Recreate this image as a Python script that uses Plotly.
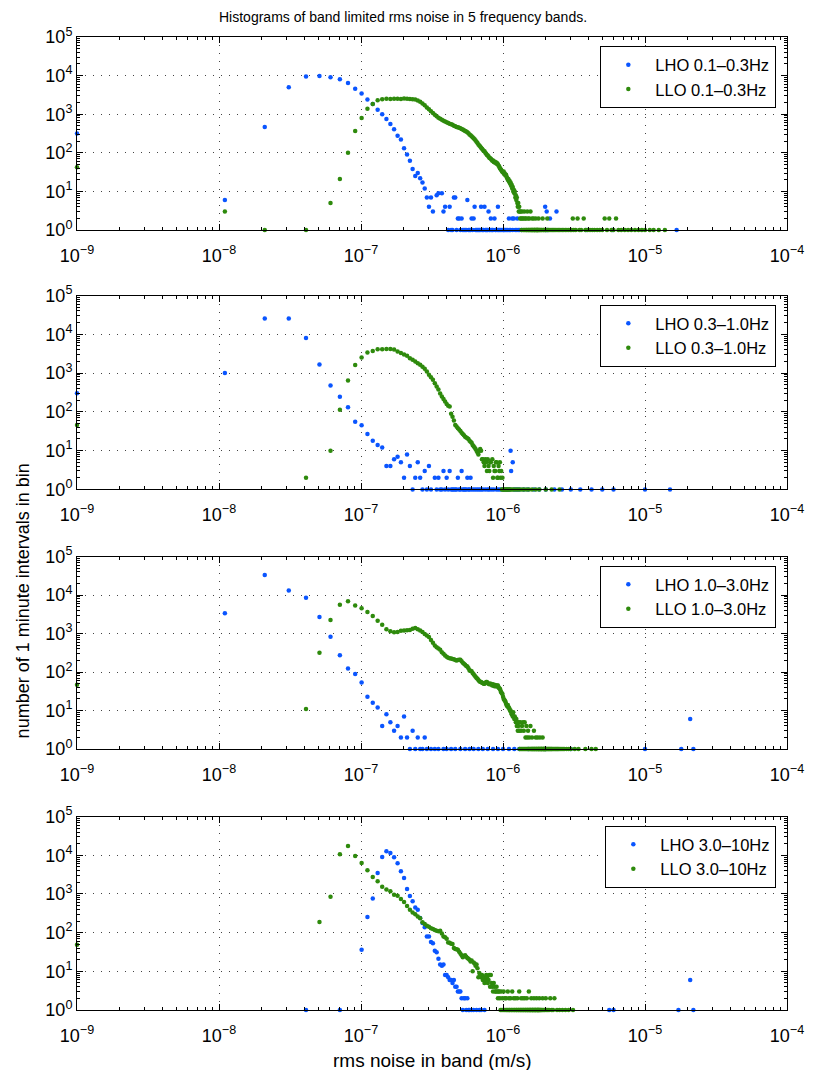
import plotly.graph_objects as go

# histogram bins: centre of bin k is BIN0 + k * BIN_WIDTH (m/s)
BIN0 = 1e-9
BIN_WIDTH = 1e-8

bands = ["0.1\u20130.3Hz", "0.3\u20131.0Hz", "1.0\u20133.0Hz", "3.0\u201310Hz"]

x_exp = [-9, -8, -7, -6, -5, -4]
y_exp = [0, 1, 2, 3, 4, 5]

# (bin, count) pairs; *_ones are bins holding a single interval
lho1 = [(0, 316), (1, 6), (2, 470), (3, 5000), (4, 9500), (5, 9700), (6, 9100), (7, 8000), (8, 6400),
        (9, 4600), (10, 3460), (11, 2390), (12, 1830), (13, 1310), (14, 1000), (15, 750), (16, 560),
        (17, 410), (18, 275), (19, 220), (20, 131), (21, 90), (22, 62), (23, 38), (24, 25), (25, 30),
        (26, 22), (27, 17), (28, 12), (29, 7), (30, 4), (31, 7), (32, 3), (34, 8), (35, 9), (37, 9),
        (38, 3), (39, 4), (42, 4), (45, 7), (46, 7), (48, 2), (49, 2), (51, 2), (56, 6), (60, 2),
        (62, 2), (63, 4), (70, 4), (74, 4), (79, 3), (82, 2), (87, 2), (92, 4), (110, 2), (116, 2),
        (119, 2), (126, 2), (198, 4), (203, 3), (214, 2), (238, 3)]
lho1_ones = [41, 43, 44, 47, 50, 52, 53, 54, 55, 57, 58, 59, 61, 64, 65, 66, 67, 68, 69, 71, 72, 73,
             75, 76, 77, 78, 80, 81, 83, 84, 85, 88, 89, 91, 93, 94, 96, 98, 100, 101, 102, 104, 106,
             108, 111, 113, 117, 122, 125, 128, 131, 135, 200, 206, 385, 590, 1670]

llo1 = [(0, 42), (1, 3), (2, 1), (4, 1), (6, 5), (7, 21), (8, 100), (9, 370), (10, 800), (11, 1390),
        (12, 1830), (13, 2290), (14, 2450), (15, 2500), (16, 2480), (17, 2520), (18, 2500), (19, 2480),
        (20, 2550), (21, 2520), (22, 2480), (23, 2430), (24, 2400), (25, 2250), (26, 2100), (27, 1900),
        (28, 1700), (29, 1500), (30, 1350), (31, 1200), (32, 1080), (33, 970), (34, 880), (35, 810),
        (36, 760), (37, 720), (38, 680), (39, 650), (40, 620), (41, 590), (42, 570), (43, 550),
        (44, 530), (45, 505), (46, 490), (47, 470), (48, 460), (49, 445), (50, 430), (51, 415),
        (52, 400), (53, 385), (54, 370), (55, 355), (56, 340), (57, 320), (58, 300), (59, 285),
        (60, 270), (61, 255), (62, 240), (63, 225), (64, 210), (65, 195), (66, 180), (67, 165),
        (68, 155), (69, 145), (70, 135), (71, 128), (72, 120), (73, 112), (74, 110), (75, 100),
        (76, 95), (77, 88), (78, 85), (79, 80), (80, 75), (81, 72), (82, 70), (83, 66), (84, 62),
        (85, 63), (86, 58), (87, 60), (88, 55), (89, 57), (90, 52), (91, 54), (92, 50), (93, 46),
        (94, 44), (95, 40), (96, 38), (97, 36), (98, 34), (99, 32), (100, 31), (101, 33), (102, 28),
        (103, 29), (104, 26), (105, 27), (106, 24), (107, 22), (108, 20), (109, 21), (110, 18),
        (111, 19), (112, 16), (113, 17), (114, 14), (115, 15), (116, 12), (117, 13), (118, 10),
        (119, 11), (120, 9), (121, 10), (122, 7), (123, 8), (124, 6), (125, 7), (126, 5), (127, 4),
        (128, 5), (129, 3), (130, 4), (131, 3), (132, 2), (133, 3), (134, 2), (136, 3), (137, 2),
        (139, 2), (141, 3), (143, 2), (145, 2), (148, 3), (150, 2), (153, 2), (156, 3), (160, 2),
        (164, 2), (170, 2), (178, 2), (190, 2), (205, 2), (310, 2), (335, 2), (370, 2), (520, 2),
        (560, 2), (625, 2)]
llo1_ones = [135, 138, 140, 142, 144, 146, 147, 149, 151, 152, 154, 155, 157, 158, 159, 161, 162, 163,
             165, 166, 167, 168, 169, 171, 172, 173, 174, 175, 176, 177, 179, 180, 182, 184, 186, 188,
             191, 193, 195, 198, 200, 203, 207, 210, 214, 218, 222, 226, 230, 235, 240, 245, 250, 256,
             262, 268, 275, 282, 290, 298, 305, 315, 325, 345, 355, 380, 395, 410, 425, 440, 460, 480,
             500, 540, 580, 600, 650, 680, 720, 760, 800, 850, 900, 950, 1000, 1080, 1150, 1250, 1380]

lho2 = [(0, 302), (1, 1000), (2, 25700), (3, 25700), (4, 8000), (5, 1660), (6, 480), (7, 245),
        (8, 132), (9, 56), (10, 45), (11, 27), (12, 18), (13, 14), (14, 12), (15, 4), (16, 4), (17, 6),
        (18, 7), (19, 5), (20, 2), (21, 8), (22, 4), (24, 2), (25, 5), (26, 2), (28, 3), (30, 4),
        (33, 2), (35, 2), (38, 3), (40, 2), (42, 3), (48, 2), (51, 3), (56, 2), (59, 2), (113, 10),
        (114, 3), (117, 5)]
lho2_ones = [23, 27, 29, 31, 34, 36, 37, 39, 41, 43, 44, 45, 46, 47, 49, 50, 52, 53, 54, 55, 57, 58,
             60, 62, 64, 66, 68, 70, 72, 75, 78, 80, 83, 86, 90, 93, 96, 100, 104, 108, 111, 120, 125,
             130, 140, 150, 165, 180, 200, 230, 260, 300, 350, 420, 500, 600, 1000, 1500]

llo2 = [(0, 46), (4, 2), (6, 10), (7, 113), (8, 645), (9, 1620), (10, 2530), (11, 3400), (12, 3700),
        (13, 4100), (14, 4150), (15, 4200), (16, 4200), (17, 4050), (18, 3620), (19, 3300), (20, 3000),
        (21, 2800), (22, 2400), (23, 2200), (24, 2000), (25, 1800), (26, 1640), (27, 1450), (28, 1300),
        (29, 1100), (30, 910), (31, 780), (32, 670), (33, 550), (34, 450), (35, 380), (36, 300),
        (37, 250), (38, 215), (39, 185), (40, 160), (41, 143), (42, 138), (43, 90), (44, 75), (45, 60),
        (46, 46), (47, 42), (48, 38), (49, 35), (50, 32), (51, 29), (52, 27), (53, 25), (54, 23),
        (55, 22), (56, 21), (57, 20), (58, 18), (59, 17), (60, 16), (61, 14), (62, 13), (63, 12),
        (64, 11), (65, 10), (66, 9), (67, 8), (68, 10), (69, 11), (70, 10), (71, 6), (72, 6), (73, 5),
        (74, 4), (75, 6), (76, 5), (77, 3), (78, 6), (79, 4), (80, 3), (81, 5), (82, 5), (84, 6),
        (85, 2), (86, 4), (87, 3), (88, 3), (89, 5), (90, 5), (91, 2), (92, 2), (93, 4), (94, 3),
        (95, 5), (96, 2), (97, 3), (99, 2)]
llo2_ones = [98, 100, 101, 103, 105, 106, 108, 110, 112, 115, 118, 122, 126, 130, 135, 140, 146, 152,
             160, 170, 180, 200, 220, 250]

lho3 = [(1, 3380), (2, 33600), (3, 13200), (4, 8500), (5, 2700), (6, 830), (7, 275), (8, 124), (9, 89),
        (10, 54), (11, 23), (12, 16), (13, 12), (14, 4), (15, 8), (16, 5), (17, 3), (18, 4), (19, 2),
        (20, 7), (21, 2), (23, 3), (25, 2), (28, 2), (2080, 6)]
lho3_ones = [22, 24, 26, 27, 29, 31, 33, 35, 38, 40, 43, 46, 50, 54, 58, 62, 67, 72, 78, 85, 92, 100,
             110, 120, 130, 150, 200, 300, 1000, 1800, 2190]

llo3 = [(0, 47), (4, 11), (5, 316), (6, 2250), (7, 5600), (8, 6950), (9, 5400), (10, 4550), (11, 3640),
        (12, 2870), (13, 2170), (14, 1700), (15, 1300), (16, 1150), (17, 1090), (18, 1110), (19, 1180),
        (20, 1200), (21, 1220), (22, 1240), (23, 1340), (24, 1390), (25, 1300), (26, 1200), (27, 1100),
        (28, 980), (29, 900), (30, 820), (31, 680), (32, 580), (33, 490), (34, 440), (35, 410),
        (36, 380), (37, 330), (38, 300), (39, 270), (40, 250), (41, 235), (42, 230), (43, 225),
        (44, 220), (45, 215), (46, 205), (47, 200), (48, 205), (49, 210), (50, 210), (51, 190),
        (52, 175), (53, 165), (54, 155), (55, 145), (56, 140), (57, 125), (58, 110), (59, 108),
        (60, 105), (61, 95), (62, 88), (63, 81), (64, 76), (65, 70), (66, 67), (67, 62), (68, 58),
        (69, 56), (70, 55), (71, 53), (72, 52), (73, 50), (74, 50), (75, 52), (76, 55), (77, 55),
        (78, 52), (79, 50), (80, 48), (81, 50), (82, 50), (83, 47), (84, 45), (85, 48), (86, 45),
        (87, 43), (88, 46), (89, 44), (90, 42), (91, 45), (92, 45), (93, 40), (94, 38), (95, 37),
        (96, 33), (97, 30), (98, 28), (99, 27), (100, 23), (101, 20), (102, 19), (103, 18), (104, 17),
        (105, 15), (106, 14), (107, 13), (108, 14), (109, 12), (110, 12), (111, 11), (112, 10),
        (113, 10), (114, 9), (115, 8), (116, 8), (117, 7), (118, 9), (119, 7), (120, 6), (121, 7),
        (122, 6), (123, 5), (124, 6), (125, 4), (126, 5), (127, 3), (128, 4), (129, 5), (130, 3),
        (132, 5), (134, 3), (136, 4), (138, 5), (140, 3), (142, 5), (144, 2), (146, 4), (148, 2),
        (150, 3), (153, 2), (156, 4), (160, 2), (165, 3), (170, 2), (175, 2), (182, 2), (190, 2)]
llo3_ones = [131, 133, 135, 137, 139, 141, 143, 145, 147, 149, 151, 152, 154, 155, 157, 158, 159, 161,
             162, 163, 164, 166, 167, 168, 169, 171, 172, 173, 174, 176, 177, 178, 179, 180, 181, 183,
             184, 185, 186, 187, 188, 189, 191, 192, 193, 194, 195, 196, 197, 198, 199, 200, 202, 204,
             206, 208, 210, 212, 214, 216, 218, 220, 222, 225, 228, 231, 234, 237, 240, 243, 246, 250,
             255, 260, 265, 270, 280, 290, 300, 320, 340, 380, 420, 450]

lho4 = [(10, 36), (11, 255), (12, 760), (13, 3500), (14, 9100), (15, 12700), (16, 11500), (17, 8900),
        (18, 6200), (19, 3850), (20, 2600), (21, 1340), (22, 890), (23, 650), (24, 445), (25, 390),
        (26, 240), (27, 178), (28, 137), (29, 80), (30, 80), (31, 57), (32, 53), (33, 34), (34, 31),
        (35, 21), (36, 15), (37, 14), (38, 15), (39, 8), (40, 8), (41, 7), (42, 6), (43, 6), (44, 5),
        (45, 6), (46, 4), (47, 4), (48, 3), (49, 3), (50, 3), (51, 2), (53, 2), (54, 2), (56, 2),
        (2080, 6)]
lho4_ones = [4, 7, 52, 55, 57, 58, 60, 62, 65, 68, 70, 74, 560, 600, 1720, 2190]

llo4 = [(0, 49), (5, 190), (6, 850), (7, 10600), (8, 17400), (9, 9600), (10, 6300), (11, 4100),
        (12, 2770), (13, 2140), (14, 1550), (15, 1300), (16, 1170), (17, 960), (18, 900), (19, 740),
        (20, 620), (21, 490), (22, 390), (23, 330), (24, 300), (25, 260), (26, 235), (27, 185),
        (28, 167), (29, 150), (30, 143), (31, 130), (32, 125), (33, 117), (34, 112), (35, 108),
        (36, 112), (37, 95), (38, 80), (39, 76), (40, 70), (41, 56), (42, 55), (43, 52), (44, 51),
        (45, 40), (46, 38), (47, 37), (48, 36), (49, 32), (50, 29), (51, 26), (52, 23), (53, 25),
        (54, 26), (55, 24), (56, 22), (57, 21), (58, 20), (59, 18), (60, 19), (61, 10), (62, 17),
        (63, 16), (64, 14), (65, 15), (66, 12), (67, 7), (68, 9), (69, 8), (70, 7), (71, 8), (72, 6),
        (73, 7), (74, 5), (75, 6), (76, 8), (77, 7), (78, 5), (79, 6), (80, 8), (81, 4), (82, 8),
        (83, 5), (84, 4), (85, 3), (86, 5), (87, 4), (88, 3), (89, 3), (90, 4), (91, 3), (92, 2),
        (93, 3), (94, 3), (95, 2), (97, 3), (99, 2), (101, 3), (103, 2), (105, 2), (108, 3), (110, 2),
        (113, 2), (116, 3), (119, 2), (122, 2), (126, 2), (130, 3), (134, 2), (138, 2), (142, 2),
        (147, 2), (152, 3), (158, 2), (165, 2), (172, 2), (180, 2), (190, 2), (200, 2), (215, 2),
        (230, 2)]
llo4_ones = [96, 98, 100, 102, 104, 106, 107, 109, 111, 112, 114, 115, 117, 118, 120, 121, 123, 124,
             125, 127, 128, 129, 131, 132, 133, 135, 136, 137, 139, 140, 141, 143, 144, 145, 146, 148,
             149, 150, 151, 153, 154, 155, 156, 157, 159, 160, 161, 162, 163, 164, 166, 167, 168, 169,
             170, 171, 173, 174, 175, 176, 177, 178, 179, 181, 182, 183, 185, 187, 189, 192, 195, 198,
             203, 207, 211, 220, 225, 240, 250, 262, 275, 290, 311]

panels = [(lho1, lho1_ones, llo1, llo1_ones),
          (lho2, lho2_ones, llo2, llo2_ones),
          (lho3, lho3_ones, llo3, llo3_ones),
          (lho4, lho4_ones, llo4, llo4_ones)]

BLUE = "#0a55ff"
GREEN = "#2e8a0c"
FONT = "Liberation Sans, Arial, sans-serif"

# panel domains (paper fractions), top panel first
domains = [(0.8016, 1.0), (0.535, 0.7343), (0.2682, 0.4659), (0.0, 0.1987)]


def series(pairs, ones):
    bins = [b for b, c in pairs] + list(ones)
    counts = [c for b, c in pairs] + [1] * len(ones)
    x = [BIN0 + b * BIN_WIDTH for b in bins]
    return x, counts


def pow10(e):
    return "10<sup>" + str(e).replace("-", "\u2212") + "</sup>"


fig = go.Figure()

for i, (lho, lho_ones, llo, llo_ones) in enumerate(panels):
    n = "" if i == 0 else str(i + 1)
    leg = "legend" + n
    for name, pairs, ones, col in [("LHO", lho, lho_ones, BLUE), ("LLO", llo, llo_ones, GREEN)]:
        x, y = series(pairs, ones)
        fig.add_trace(go.Scatter(
            x=x, y=y, mode="markers", name=name + " " + bands[i], cliponaxis=False,
            marker=dict(size=4.5, color=col, line=dict(width=0)),
            xaxis="x" + n, yaxis="y" + n, legend=leg))

    axis_common = dict(
        type="log", showline=True, linecolor="black", linewidth=1, mirror="allticks",
        ticks="inside", ticklen=6, tickcolor="black", tickwidth=1,
        showgrid=True, gridcolor="#444", gridwidth=1, griddash="1px,7px",
        zeroline=False,
        tickfont=dict(family=FONT, size=18, color="black"),
        minor=dict(ticks="inside", ticklen=3, tickcolor="black", dtick="D1", showgrid=False),
    )
    fig.update_layout(**{
        "xaxis" + n: dict(axis_common, range=[-9, -4], anchor="y" + n, domain=[0, 1],
                          ticklabelstandoff=9,
                          tickvals=[10.0 ** e for e in x_exp], ticktext=[pow10(e) for e in x_exp]),
        "yaxis" + n: dict(axis_common, range=[0, 5], anchor="x" + n, domain=list(domains[i]),
                          tickvals=[10.0 ** e for e in y_exp], ticktext=[pow10(e) for e in y_exp]),
        leg: dict(x=0.9847, xanchor="right", y=domains[i][1] - 0.0095, yanchor="top",
                  bgcolor="white", bordercolor="black", borderwidth=1.2,
                  font=dict(family=FONT, size=16.5, color="black"),
                  itemsizing="trace", itemwidth=44, tracegroupgap=0),
    })

fig.add_annotation(text="Histograms of band limited rms noise in 5 frequency bands.",
                   xref="paper", yref="paper", x=0.459, y=1.0206, xanchor="center",
                   yanchor="middle", showarrow=False,
                   font=dict(family=FONT, size=14, color="black"))
fig.add_annotation(text="rms noise in band (m/s)", xref="paper", yref="paper", x=0.5, y=-0.0514,
                   xanchor="center", yanchor="middle", showarrow=False,
                   font=dict(family=FONT, size=19, color="black"))
fig.add_annotation(text="number of 1 minute intervals in bin", xref="paper", yref="paper",
                   x=-0.076, y=0.42, xanchor="center", yanchor="middle", textangle=-90,
                   showarrow=False, font=dict(family=FONT, size=18, color="black"))

# the page body keeps its default 8px margin, so the figure is 8px smaller each way
fig.update_layout(width=808, height=1062, margin=dict(l=69, r=19, t=29, b=60),
                  plot_bgcolor="white", paper_bgcolor="white", showlegend=True)

fig.write_html("out.html")
